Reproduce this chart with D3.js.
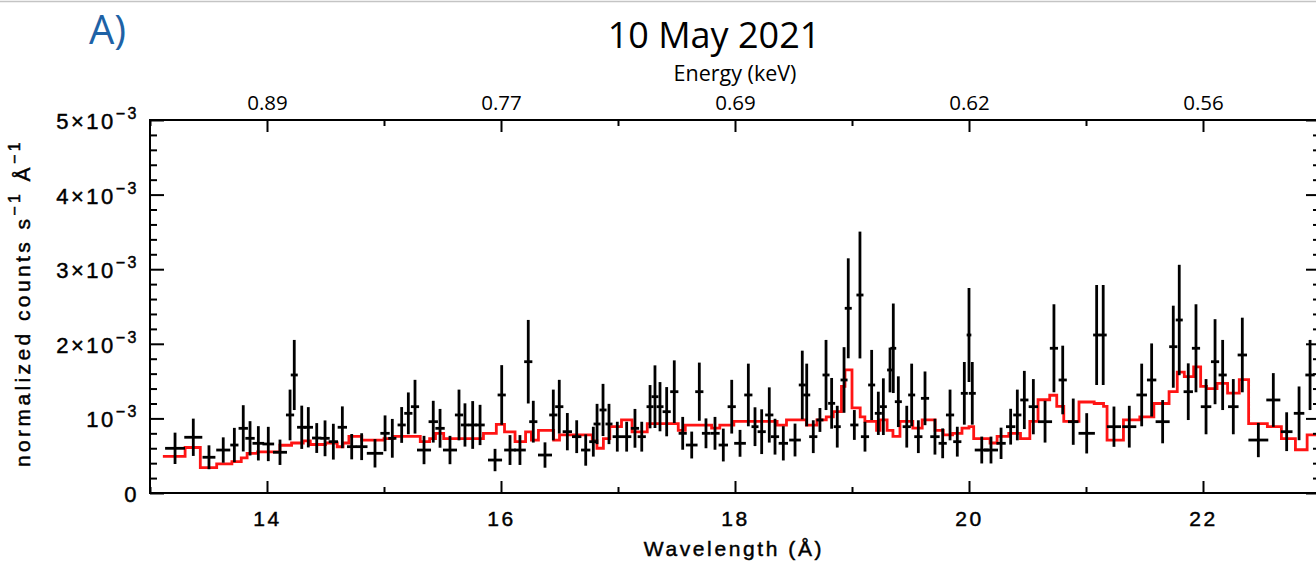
<!DOCTYPE html>
<html>
<head>
<meta charset="utf-8">
<script src="https://cdn.jsdelivr.net/npm/d3@7/dist/d3.min.js"></script>
<style>
  html, body { margin: 0; padding: 0; background: #fff; }
  svg { display: block; }
</style>
</head>
<body>
<svg id="chart" width="1316" height="566"></svg>
<script>
// Binned spectrum: wavelength (Å), bin half-width (Å), flux and 1σ error (units of 1e-3 counts s^-1 Å^-1)
const wavelength = [
  13.214, 13.370, 13.504, 13.626, 13.721, 13.797, 13.855, 13.926, 14.011, 14.111,
  14.197, 14.233, 14.297, 14.353, 14.425, 14.496, 14.567, 14.644, 14.724, 14.809,
  14.923, 15.009, 15.071, 15.151, 15.208, 15.265, 15.342, 15.421, 15.479, 15.564,
  15.641, 15.692, 15.758, 15.821, 15.949, 16.006, 16.077, 16.162, 16.233, 16.276,
  16.376, 16.447, 16.498, 16.567, 16.647, 16.724, 16.789, 16.821, 16.872, 16.923,
  16.994, 17.074, 17.145, 17.203, 17.274, 17.316, 17.359, 17.416, 17.481, 17.553,
  17.630, 17.695, 17.752, 17.829, 17.900, 17.972, 18.043, 18.114, 18.171, 18.228,
  18.293, 18.342, 18.413, 18.513, 18.575, 18.613, 18.669, 18.726, 18.778, 18.826,
  18.874, 18.932, 18.968, 19.020, 19.068, 19.111, 19.168, 19.225, 19.268, 19.325,
  19.353, 19.396, 19.468, 19.510, 19.567, 19.624, 19.709, 19.775, 19.838, 19.900,
  19.960, 20.000, 20.028, 20.109, 20.188, 20.274, 20.356, 20.413, 20.473, 20.550,
  20.650, 20.726, 20.801, 20.891, 21.006, 21.091, 21.147, 21.239, 21.370, 21.476,
  21.561, 21.655, 21.746, 21.797, 21.874, 21.940, 22.026, 22.103, 22.168, 22.259,
  22.336, 22.473, 22.601, 22.715, 22.821, 22.915
];
const halfWidth = [
  0.085, 0.077, 0.055, 0.060, 0.035, 0.040, 0.040, 0.050, 0.050, 0.060,
  0.035, 0.030, 0.040, 0.040, 0.040, 0.040, 0.040, 0.040, 0.040, 0.050,
  0.070, 0.040, 0.035, 0.035, 0.035, 0.035, 0.060, 0.040, 0.040, 0.060,
  0.035, 0.035, 0.035, 0.040, 0.060, 0.035, 0.050, 0.050, 0.035, 0.035,
  0.060, 0.035, 0.035, 0.040, 0.040, 0.040, 0.035, 0.030, 0.030, 0.030,
  0.040, 0.040, 0.035, 0.035, 0.030, 0.030, 0.030, 0.035, 0.035, 0.035,
  0.050, 0.035, 0.035, 0.040, 0.040, 0.035, 0.050, 0.035, 0.030, 0.035,
  0.035, 0.035, 0.040, 0.050, 0.030, 0.030, 0.035, 0.030, 0.030, 0.030,
  0.030, 0.030, 0.030, 0.035, 0.030, 0.035, 0.030, 0.030, 0.030, 0.025,
  0.025, 0.030, 0.035, 0.030, 0.035, 0.035, 0.040, 0.035, 0.035, 0.035,
  0.030, 0.020, 0.030, 0.060, 0.060, 0.040, 0.040, 0.035, 0.035, 0.040,
  0.060, 0.035, 0.035, 0.045, 0.070, 0.030, 0.030, 0.060, 0.060, 0.045,
  0.040, 0.060, 0.035, 0.030, 0.040, 0.035, 0.045, 0.035, 0.035, 0.045,
  0.040, 0.085, 0.060, 0.050, 0.045, 0.040
];
const flux = [
  0.599, 0.747, 0.479, 0.576, 0.643, 0.867, 0.733, 0.666, 0.657, 0.546,
  1.046, 1.582, 0.881, 0.881, 0.737, 0.733, 0.688, 0.881, 0.621, 0.621,
  0.532, 0.800, 0.733, 0.912, 1.068, 1.157, 0.576, 0.956, 0.867, 0.576,
  1.046, 0.912, 0.912, 0.912, 0.442, 1.314, 0.576, 0.576, 1.760, 0.956,
  0.509, 1.046, 1.157, 0.822, 0.755, 0.576, 0.688, 0.925, 1.113, 0.925,
  0.755, 0.755, 0.867, 0.755, 1.157, 1.291, 1.157, 1.090, 1.358, 0.800,
  0.643, 1.358, 0.800, 0.800, 0.643, 1.157, 0.666, 1.314, 0.889, 0.822,
  1.046, 0.755, 0.666, 0.710, 1.448, 1.314, 0.755, 0.979, 1.582, 1.202,
  0.889, 1.515, 2.476, 0.912, 2.654, 0.755, 1.448, 1.068, 1.157, 1.649,
  1.940, 1.224, 0.889, 1.314, 0.755, 1.269, 0.755, 0.666, 1.046, 0.688,
  1.336, 2.118, 1.336, 0.576, 0.576, 0.666, 0.889, 1.046, 1.247, 1.157,
  0.956, 1.940, 1.515, 0.956, 0.800, 2.118, 2.118, 0.889, 0.889, 1.314,
  1.515, 0.956, 1.961, 2.319, 1.358, 1.940, 1.157, 1.760, 1.582, 1.157,
  1.850, 0.710, 1.247, 0.822, 1.068, 1.582
];
const fluxErr = [
  0.21, 0.25, 0.16, 0.17, 0.23, 0.31, 0.23, 0.23, 0.23, 0.17,
  0.34, 0.47, 0.29, 0.27, 0.20, 0.24, 0.24, 0.28, 0.17, 0.18,
  0.19, 0.24, 0.26, 0.24, 0.28, 0.36, 0.19, 0.28, 0.26, 0.19,
  0.34, 0.29, 0.32, 0.27, 0.15, 0.40, 0.20, 0.20, 0.56, 0.28,
  0.17, 0.34, 0.36, 0.25, 0.22, 0.21, 0.20, 0.27, 0.35, 0.27,
  0.20, 0.20, 0.26, 0.20, 0.29, 0.42, 0.33, 0.33, 0.42, 0.22,
  0.18, 0.39, 0.20, 0.22, 0.22, 0.36, 0.18, 0.42, 0.26, 0.30,
  0.37, 0.24, 0.23, 0.22, 0.46, 0.42, 0.22, 0.16, 0.47, 0.34,
  0.28, 0.44, 0.67, 0.20, 0.85, 0.20, 0.47, 0.29, 0.38, 0.30,
  0.60, 0.34, 0.28, 0.42, 0.22, 0.36, 0.24, 0.20, 0.34, 0.20,
  0.42, 0.63, 0.42, 0.18, 0.18, 0.21, 0.24, 0.34, 0.39, 0.37,
  0.28, 0.59, 0.46, 0.31, 0.27, 0.67, 0.67, 0.27, 0.28, 0.42,
  0.49, 0.29, 0.55, 0.74, 0.38, 0.59, 0.37, 0.57, 0.47, 0.37,
  0.50, 0.23, 0.36, 0.26, 0.36, 0.47
];

// Folded model: bin edges (Å) and model flux per bin (1e-3 counts s^-1 Å^-1)
const modelEdges = [
  13.11, 13.30, 13.43, 13.57, 13.70, 13.78, 13.83, 13.92, 14.11, 14.21,
  14.31, 14.37, 14.50, 14.60, 14.65, 14.70, 14.81, 14.87, 15.00, 15.08,
  15.31, 15.39, 15.44, 15.51, 15.85, 15.96, 16.03, 16.12, 16.21, 16.26,
  16.32, 16.45, 16.50, 16.78, 16.82, 16.875, 16.93, 17.03, 17.12, 17.25,
  17.515, 17.575, 17.80, 17.87, 17.99, 18.36, 18.44, 18.61, 18.70, 18.78,
  18.84, 18.91, 18.94, 19.00, 19.07, 19.11, 19.21, 19.24, 19.30, 19.35,
  19.41, 19.52, 19.60, 19.71, 19.78, 19.86, 19.94, 20.00, 20.04, 20.18,
  20.24, 20.34, 20.44, 20.52, 20.59, 20.69, 20.75, 20.81, 20.94, 21.07,
  21.15, 21.18, 21.32, 21.46, 21.58, 21.71, 21.78, 21.84, 21.92, 21.98,
  22.03, 22.12, 22.21, 22.31, 22.39, 22.55, 22.67, 22.79, 22.89, 23.00
];
const modelFlux = [
  0.49, 0.61, 0.34, 0.39, 0.42, 0.47, 0.53, 0.55, 0.64, 0.67,
  0.70, 0.65, 0.67, 0.62, 0.67, 0.76, 0.71, 0.71, 0.73, 0.76,
  0.69, 0.73, 0.80, 0.73, 0.80, 0.92, 0.82, 0.69, 0.82, 0.71,
  0.84, 0.71, 0.78, 0.70, 0.60, 0.73, 0.89, 0.98, 0.82, 0.93,
  0.84, 0.91, 0.87, 0.91, 0.96, 0.91, 0.98, 0.91, 0.98, 1.02,
  1.09, 1.43, 1.65, 1.14, 1.02, 0.96, 0.84, 0.98, 0.84, 0.76,
  0.96, 0.87, 0.98, 0.84, 0.78, 0.80, 0.87, 0.89, 0.73, 0.67,
  0.76, 0.80, 0.73, 0.96, 1.25, 1.31, 1.16, 0.96, 1.22, 1.20,
  1.16, 0.71, 0.98, 1.02, 1.20, 1.36, 1.62, 1.56, 1.69, 1.43,
  1.40, 1.47, 1.34, 1.52, 0.93, 0.89, 0.73, 0.58, 0.78
];

// Axis ticks and labels
const xMajorTicks = [14, 16, 18, 20, 22];
const xMinorTicks = [13, 15, 17, 19, 21, 23];
const energyLabels = ["0.89", "0.77", "0.69", "0.62", "0.56"];
const yMajorTicks = [0, 1, 2, 3, 4, 5];
const yTickLabels = ["0", "10^−3", "2×10^−3", "3×10^−3", "4×10^−3", "5×10^−3"];
const yMinorTicks = d3.range(0, 5.0001, 0.2);

const svg = d3.select("#chart");
const W = 1316, H = 566;
const plot = { left: 150, right: 1320, top: 120, bottom: 493 };

const x = d3.scaleLinear().domain([13, 23]).range([plot.left, plot.right]);
const y = d3.scaleLinear().domain([0, 5]).range([plot.bottom, plot.top]);

const axisFont = "'Liberation Sans', Arial, Helvetica, sans-serif";
const officeFont = "'Open Sans', 'Noto Sans', sans-serif";

// heavier stroke-drawn look for the plot annotation text
function plotText(sel, size) {
  return sel.attr("font-family", axisFont).attr("font-size", size)
    .attr("fill", "#000").attr("stroke", "#000").attr("stroke-width", 0.45);
}

// thin separator line across the top
svg.append("line")
  .attr("x1", 0).attr("x2", W).attr("y1", 1.5).attr("y2", 1.5)
  .attr("stroke", "#c4c4c4").attr("stroke-width", 1.5);

// panel letter and titles
svg.append("text").attr("x", 89).attr("y", 44)
  .attr("font-family", officeFont).attr("font-size", 40).attr("fill", "#1e62a6")
  .text("A)");
svg.append("text").attr("x", 714).attr("y", 48).attr("text-anchor", "middle")
  .attr("font-family", officeFont).attr("font-size", 36).attr("fill", "#000")
  .text("10 May 2021");
svg.append("text").attr("x", 735).attr("y", 81).attr("text-anchor", "middle")
  .attr("font-family", officeFont).attr("font-size", 21.5).attr("fill", "#000")
  .text("Energy (keV)");

// clipping for the data area
svg.append("defs").append("clipPath").attr("id", "plotClip")
  .append("rect").attr("x", plot.left).attr("y", plot.top)
  .attr("width", plot.right - plot.left).attr("height", plot.bottom - plot.top);

const dataG = svg.append("g").attr("clip-path", "url(#plotClip)");

// model step curve
const steps = [];
modelFlux.forEach((v, i) => {
  steps.push([modelEdges[i], v]);
  steps.push([modelEdges[i + 1], v]);
});
dataG.append("path")
  .datum(steps)
  .attr("fill", "none")
  .attr("stroke", "#ff1414")
  .attr("stroke-width", 2.8)
  .attr("stroke-linejoin", "miter")
  .attr("d", d3.line().x(d => x(d[0])).y(d => y(d[1])));

// data crosses
const pts = wavelength.map((w, i) => ({ w, hw: halfWidth[i], f: flux[i], e: fluxErr[i] }));
const cross = dataG.append("g").attr("stroke", "#000").attr("stroke-width", 2.8)
  .selectAll("g").data(pts).join("g");
cross.append("line")
  .attr("x1", d => x(d.w)).attr("x2", d => x(d.w))
  .attr("y1", d => y(d.f - d.e)).attr("y2", d => y(d.f + d.e));
cross.append("line")
  .attr("x1", d => x(d.w - d.hw)).attr("x2", d => x(d.w + d.hw))
  .attr("y1", d => y(d.f)).attr("y2", d => y(d.f));

// axes: ticks drawn inward on all four sides
function styleAxis(g) {
  g.select(".domain").remove();
  g.selectAll(".tick line").attr("stroke", "#000").attr("stroke-width", 2);
}
svg.append("g").attr("transform", `translate(0,${plot.bottom})`)
  .call(d3.axisBottom(x).tickValues(xMajorTicks).tickSize(-12).tickPadding(18)
    .tickFormat(d3.format("d")))
  .call(styleAxis)
  .call(g => plotText(g.selectAll(".tick text"), 21).attr("letter-spacing", 2.5));
svg.append("g").attr("transform", `translate(0,${plot.bottom})`)
  .call(d3.axisBottom(x).tickValues(xMinorTicks).tickSize(-6).tickFormat(""))
  .call(styleAxis);

svg.append("g").attr("transform", `translate(0,${plot.top})`)
  .call(d3.axisTop(x).tickValues(xMajorTicks).tickSize(-12).tickPadding(10)
    .tickFormat((d, i) => energyLabels[i]))
  .call(styleAxis)
  .call(g => g.selectAll(".tick text")
    .attr("font-family", officeFont).attr("font-size", 20.5).attr("fill", "#000"));
svg.append("g").attr("transform", `translate(0,${plot.top})`)
  .call(d3.axisTop(x).tickValues(xMinorTicks).tickSize(-6).tickFormat(""))
  .call(styleAxis);

const yMinorOnly = yMinorTicks.filter(v => Math.abs(v - Math.round(v)) > 1e-6);
svg.append("g").attr("transform", `translate(${plot.left},0)`)
  .call(d3.axisLeft(y).tickValues(yMajorTicks).tickSize(-14).tickFormat(""))
  .call(styleAxis);
svg.append("g").attr("transform", `translate(${plot.left},0)`)
  .call(d3.axisLeft(y).tickValues(yMinorOnly).tickSize(-7).tickFormat(""))
  .call(styleAxis);
svg.append("g").attr("transform", `translate(${plot.right},0)`)
  .call(d3.axisRight(y).tickValues(yMajorTicks).tickSize(-14).tickFormat(""))
  .call(styleAxis);
svg.append("g").attr("transform", `translate(${plot.right},0)`)
  .call(d3.axisRight(y).tickValues(yMinorOnly).tickSize(-7).tickFormat(""))
  .call(styleAxis);

// frame
svg.append("rect")
  .attr("x", plot.left).attr("y", plot.top)
  .attr("width", plot.right - plot.left).attr("height", plot.bottom - plot.top)
  .attr("fill", "none").attr("stroke", "#000").attr("stroke-width", 2);

// y tick labels with superscript exponents
yMajorTicks.forEach((v, i) => {
  const parts = yTickLabels[i].split("^");
  const t = plotText(svg.append("text"), 22)
    .attr("x", 139).attr("y", y(v) + 9)
    .attr("text-anchor", "end")
    .attr("letter-spacing", 2.5);
  t.append("tspan").text(parts[0]);
  if (parts[1]) {
    t.append("tspan").attr("dy", -10).attr("font-size", 16).text(parts[1]);
  }
});

// axis titles
plotText(svg.append("text"), 21)
  .attr("x", 734).attr("y", 556).attr("text-anchor", "middle")
  .attr("letter-spacing", 2.6)
  .text("Wavelength (Å)");

const yTitle = plotText(svg.append("text"), 21)
  .attr("transform", "translate(30,303) rotate(-90)")
  .attr("text-anchor", "middle")
  .attr("letter-spacing", 3.4);
yTitle.append("tspan").text("normalized  counts  s");
yTitle.append("tspan").attr("dy", -10).attr("font-size", 16).text("−1");
yTitle.append("tspan").attr("dy", 10).text("  Å");
yTitle.append("tspan").attr("dy", -10).attr("font-size", 16).text("−1");
</script>
</body>
</html>
